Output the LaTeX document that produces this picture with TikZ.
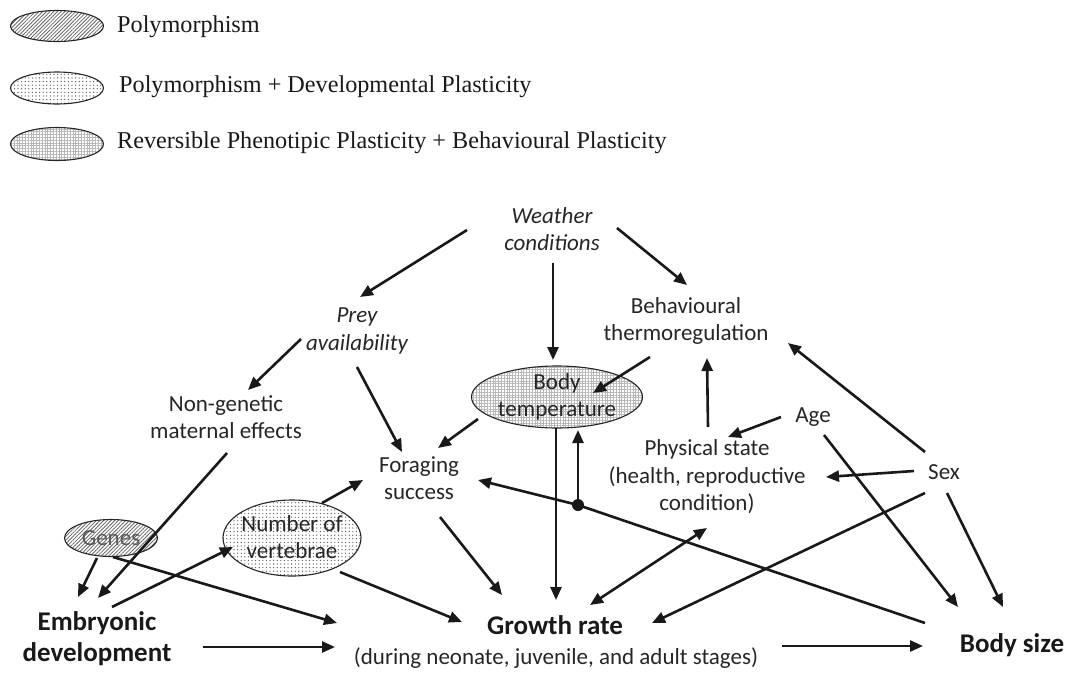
\documentclass[tikz,border=0pt]{standalone}
\usepackage{fontspec}
\setmainfont{Carlito}
\newfontfamily\legfont{Liberation Serif}
\usetikzlibrary{shapes.geometric,patterns.meta,arrows.meta,calc}
\begin{document}
\begin{tikzpicture}[x=1pt,y=-1pt,
  lbl/.style={inner sep=0pt, align=center, text=black!85, font=\fontsize{23}{27.5}\selectfont},
  ilbl/.style={lbl, font=\fontsize{23}{27.5}\selectfont\itshape},
  blbl/.style={lbl, text=black!90, font=\fontsize{27}{31}\selectfont\bfseries},
  legtxt/.style={inner sep=0pt, text=black!90, font=\legfont\fontsize{24.2}{28}\selectfont},
  arr/.style={line width=2.6pt, black!90, -{Triangle[length=13pt,width=11pt]}},
  arrtwo/.style={line width=2.6pt, black!90, {Triangle[length=13pt,width=11pt]}-{Triangle[length=13pt,width=11pt]}},
  hatchE/.style={ellipse, draw=black!85, line width=1.1pt, inner sep=0pt, pattern={Lines[angle=45,distance=2.6pt,line width=0.8pt]}, pattern color=black!60},
  dotE/.style={ellipse, draw=black!85, line width=1.1pt, inner sep=0pt, pattern={Dots[distance=3.6pt,radius=0.65pt]}, pattern color=black!70},
  gridE/.style={ellipse, draw=black!85, line width=1.1pt, inner sep=0pt, pattern={Hatch[distance=2.8pt,line width=0.4pt]}, pattern color=black!28}
]
\useasboundingbox (0,0) rectangle (1070,672);

% legend
\node[hatchE, minimum width=93pt, minimum height=31pt] (leg1) at (57,26) {};
\node[legtxt, anchor=west] (leg1t) at (117,27) {Polymorphism};
\node[dotE, minimum width=93pt, minimum height=32pt] (leg2) at (57,88) {};
\node[legtxt, anchor=west] (leg2t) at (119,87) {Polymorphism + Developmental Plasticity};
\node[gridE, minimum width=93pt, minimum height=33pt] (leg3) at (57,144) {};
\node[legtxt, anchor=west] (leg3t) at (117,143) {Reversible Phenotipic Plasticity + Behavioural Plasticity};

% diagram nodes
\node[ilbl] (wc) at (552,229) {Weather\\conditions};
\node[ilbl] (prey) at (357,331) {Prey\\availability};
\node[lbl] (bt) at (686,321) {Behavioural\\thermoregulation};
\node[lbl] (ng) at (226,417) {Non-genetic\\maternal effects};
\node[gridE, minimum width=171pt, minimum height=62pt] (btemp) at (557,397) {};
\node[lbl] (btempL) at (557,397) {Body\\temperature};
\node[lbl] (age) at (813,417) {Age};
\node[lbl] (phys) at (707,477) {Physical state\\(health, reproductive\\condition)};
\node[lbl] (fs) at (419,478) {Foraging\\success};
\node[lbl] (sex) at (944,472) {Sex};
\node[hatchE, minimum width=93pt, minimum height=37pt] (genes) at (111,538) {};
\node[lbl, text=black!65] (genesL) at (111,538) {Genes};
\node[dotE, minimum width=138pt, minimum height=76pt] (nv) at (292,538) {};
\node[lbl] (nvL) at (292,537) {Number of\\vertebrae};
\node[blbl] (emb) at (97,639) {Embryonic\\development};
\node[blbl] (gr) at (555,625) {Growth rate};
\node[lbl] (grs) at (556,658) {(during neonate, juvenile, and adult stages)};
\node[blbl] (bs) at (1012,645) {Body size};
\coordinate (jn) at (578,505);

% connectors
\draw[arr] ($(wc)+(-85,1)$) -- ($(prey)+(3,-34)$);
\draw[arr] ($(wc)+(1,34)$) -- ($(btemp)+(-4,-37)$);
\draw[arr] ($(wc)+(65,-1)$) -- ($(bt)+(1,-36)$);
\draw[arr] ($(prey)+(-56,8)$) -- ($(ng)+(22,-27)$);
\draw[arr] ($(prey)+(0,36)$) -- ($(fs)+(-17,-26)$);
\draw[arr] ($(bt)+(-36,36)$) -- ($(btemp)+(36,-4)$);
\draw[arr] ($(btemp)+(-79,22)$) -- ($(fs)+(19,-30)$);
\draw[arr] ($(phys)+(1,-50)$) -- ($(bt)+(21,37)$);
\draw[arr] ($(age)+(-32,0)$) -- ($(phys)+(21,-40)$);
\draw[arr] ($(ng)+(1,36)$) -- ($(emb)+(1,-41)$);
\draw[arr] ($(genes)+(-14,20)$) -- ($(emb)+(-19,-42)$);
\draw[arr] ($(genes)+(2,19)$) -- ($(gr)+(-218,-2)$);
\draw[arr] ($(emb)+(15,-32)$) -- ($(nv)+(-59,9)$);
\draw[arr] ($(emb)+(106,8)$) -- ($(grs)+(-221,-11)$);
\draw[arr] ($(nv)+(30,-35)$) -- ($(fs)+(-56,2)$);
\draw[arr] ($(nv)+(48,34)$) -- ($(gr)+(-93,-3)$);
\draw[arr] ($(fs)+(21,39)$) -- ($(gr)+(-53,-30)$);
\draw[arr] ($(btemp)+(-1,31)$) -- ($(gr)+(1,-25)$);
\draw[arr] (jn) -- ($(btemp)+(21,33)$);
\draw[arr] ($(bs)+(-87,-22)$) -- (jn) -- ($(fs)+(59,2)$);
\fill[black!90] (jn) circle (6pt);
\draw[arrtwo] ($(gr)+(35,-20)$) -- ($(phys)+(0,51)$);
\draw[arr] ($(sex)+(-19,21)$) -- ($(gr)+(97,-2)$);
\draw[arr] ($(sex)+(-30,-1)$) -- ($(phys)+(119,0)$);
\draw[arr] ($(sex)+(-19,-20)$) -- ($(bt)+(102,22)$);
\draw[arr] ($(sex)+(3,21)$) -- ($(bs)+(-9,-38)$);
\draw[arr] ($(age)+(11,18)$) -- ($(bs)+(-54,-38)$);
\draw[arr] ($(grs)+(226,-12)$) -- ($(bs)+(-89,1)$);
\end{tikzpicture}
\end{document}
